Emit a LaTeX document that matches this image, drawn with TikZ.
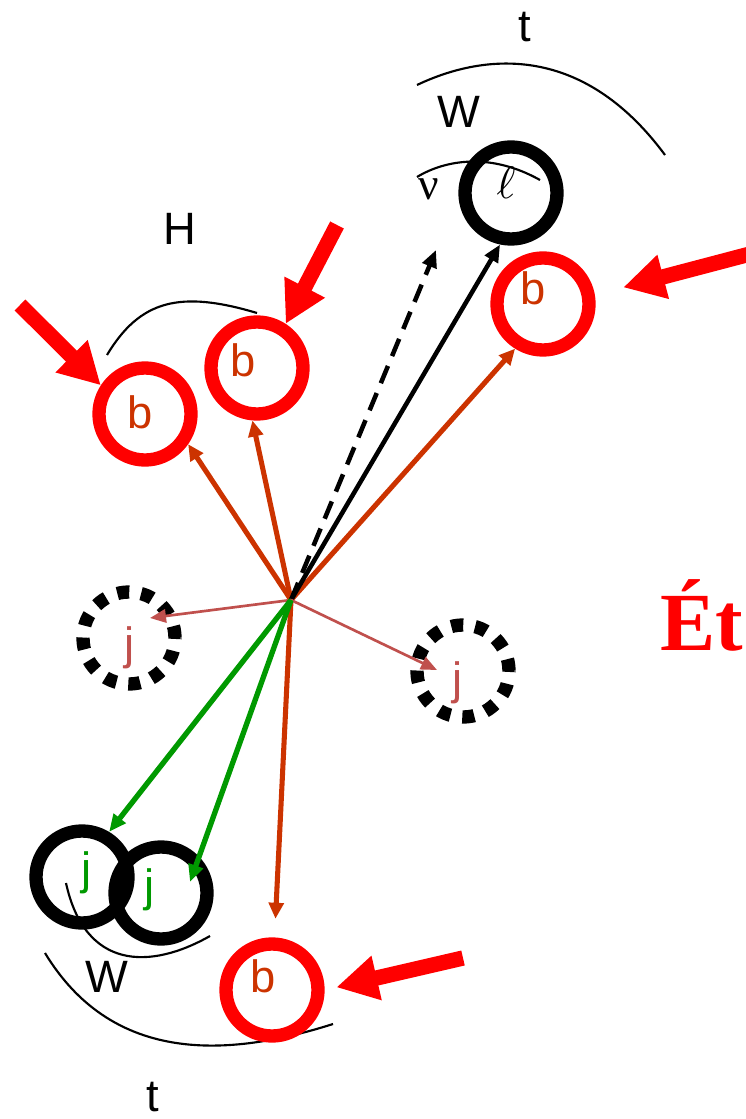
\documentclass[tikz,border=0pt]{standalone}
\usepackage{graphicx}
\usepackage{fontspec}
\setmainfont{Liberation Sans}
\newfontfamily\timesfont{Liberation Serif}
\usetikzlibrary{arrows.meta}
\definecolor{lcred}{HTML}{FF0000}
\definecolor{lcorange}{HTML}{CC3300}
\definecolor{lcgreen}{HTML}{009900}
\definecolor{lcpink}{HTML}{C0504D}

\begin{document}
\begin{tikzpicture}[x=0.75pt, y=-0.75pt,
    every node/.style={font=\fontsize{34}{40}\selectfont, inner sep=0pt},
    ring/.style={circle, line width=10pt, minimum size=69pt},
    bjet/.style={ring, draw=lcred},
    wjet/.style={ring, draw=black},
    softjet/.style={ring, draw=black, dash pattern=on 9pt off 9pt},
    tag/.style={text=lcorange},
    track/.style={line width=3.8pt, draw=lcorange, -{Triangle[length=12pt,width=11pt]}},
    wtrack/.style={line width=4pt, draw=lcgreen, -{Triangle[length=13pt,width=11pt]}},
    thin/.style={line width=2pt, draw=lcpink, -{Triangle[length=12pt,width=10pt]}},
    bigarrow/.style={line width=11.5pt, draw=lcred, -{Triangle[length=31pt,width=32pt]}},
    bracket/.style={line width=1.6pt}]
  \useasboundingbox (0,0) rectangle (745,1119);

  % decay brackets
  \draw[bracket] (417,85) .. controls (480,55) and (580,40) .. (665,155);
  \draw[bracket] (417,177) .. controls (445,160) and (490,152) .. (540,180);
  \draw[bracket] (107,355) .. controls (140,300) and (180,290) .. (257,313);
  \draw[bracket] (66,883) .. controls (85,970) and (150,970) .. (210,936);
  \draw[bracket] (45,953) .. controls (110,1060) and (220,1060) .. (333,1024);

  \node[anchor=base] (ttop) at (525,42) {t};
  \node[anchor=base] (wtop) at (459,128) {W};
  \node[anchor=base] (hlab) at (180,245) {H};
  \node[anchor=base] (wbot) at (107,992) {W};
  \node[anchor=base] (tbot) at (153,1111) {t};

  % jets and lepton
  \node[wjet] (lep) at (511,193) {};
  \node[anchor=base] (ell) at (506,199) {\scalebox{3.4}{\normalsize$\ell$}};
  \node[anchor=base, font=\timesfont\fontsize{34}{40}\selectfont] (nulab) at (429,200) {ν};

  \node[bjet] (b1) at (145,414) {};
  \node[bjet] (b2) at (257,368) {};
  \node[bjet] (b3) at (543,304) {};
  \node[bjet] (b4) at (272,990) {};
  \node[tag, anchor=base] (b1txt) at (140,428) {b};
  \node[tag, anchor=base] (b2txt) at (243,376) {b};
  \node[tag, anchor=base] (b3txt) at (533,305) {b};
  \node[tag, anchor=base] (b4txt) at (263,992) {b};

  \node[softjet] (jl) at (129,638) {};
  \node[softjet] (jr) at (463,671) {};
  \node[text=lcpink] (jltxt) at (130,648) {j};
  \node[text=lcpink] (jrtxt) at (458,683) {j};

  \node[wjet] (jw1) at (82,877) {};
  \node[wjet] (jw2) at (161,893) {};
  \node[text=lcgreen] (jw1txt) at (87,873) {j};
  \node[text=lcgreen] (jw2txt) at (150,890) {j};

  % missing energy
  \node[anchor=base west, text=lcred, font=\timesfont\bfseries\fontsize{62}{70}\selectfont] (met) at (660,650) {Ét};

  % tracks from the vertex
  \coordinate (o) at (291,600);
  \coordinate (nu) at (436,250);
  \coordinate (jlt) at ([shift={(21,-20)}]jl.center);
  \coordinate (jrt) at ([shift={(-26,-1)}]jr.center);
  \coordinate (jw2t) at ([shift={(29,-11)}]jw2.center);

  \draw[track] (o) -- (b1.-35);
  \draw[track] (o) -- (b2.-95);
  \draw[track] (o) -- (b3.-122);
  \draw[track, shorten >=14pt] (o) -- (b4);
  \draw[line width=3.4pt, dash pattern=on 14pt off 8pt, -{Triangle[length=13pt,width=11pt]}] (o) -- (nu);
  \draw[line width=3.4pt, -{Triangle[length=13pt,width=11pt]}] (o) -- (lep.-102);
  \draw[thin] (o) -- (jlt);
  \draw[thin] (o) -- (jrt);
  \draw[wtrack] (o) -- (jw1.59);
  \draw[wtrack] (o) -- (jw2t);

  % b-tag arrows
  \coordinate (hl) at (20,305);
  \coordinate (ht) at (337,225);
  \coordinate (tr) at (750,254);
  \coordinate (br) at (463,958);
  \draw[bigarrow] (hl) -- (b1.147);
  \draw[bigarrow] (ht) -- (b2.57);
  \draw[bigarrow, shorten >=22pt] (tr) -- (b3.10);
  \draw[bigarrow, shorten >=9pt] (br) -- (b4.east);
\end{tikzpicture}
\end{document}
